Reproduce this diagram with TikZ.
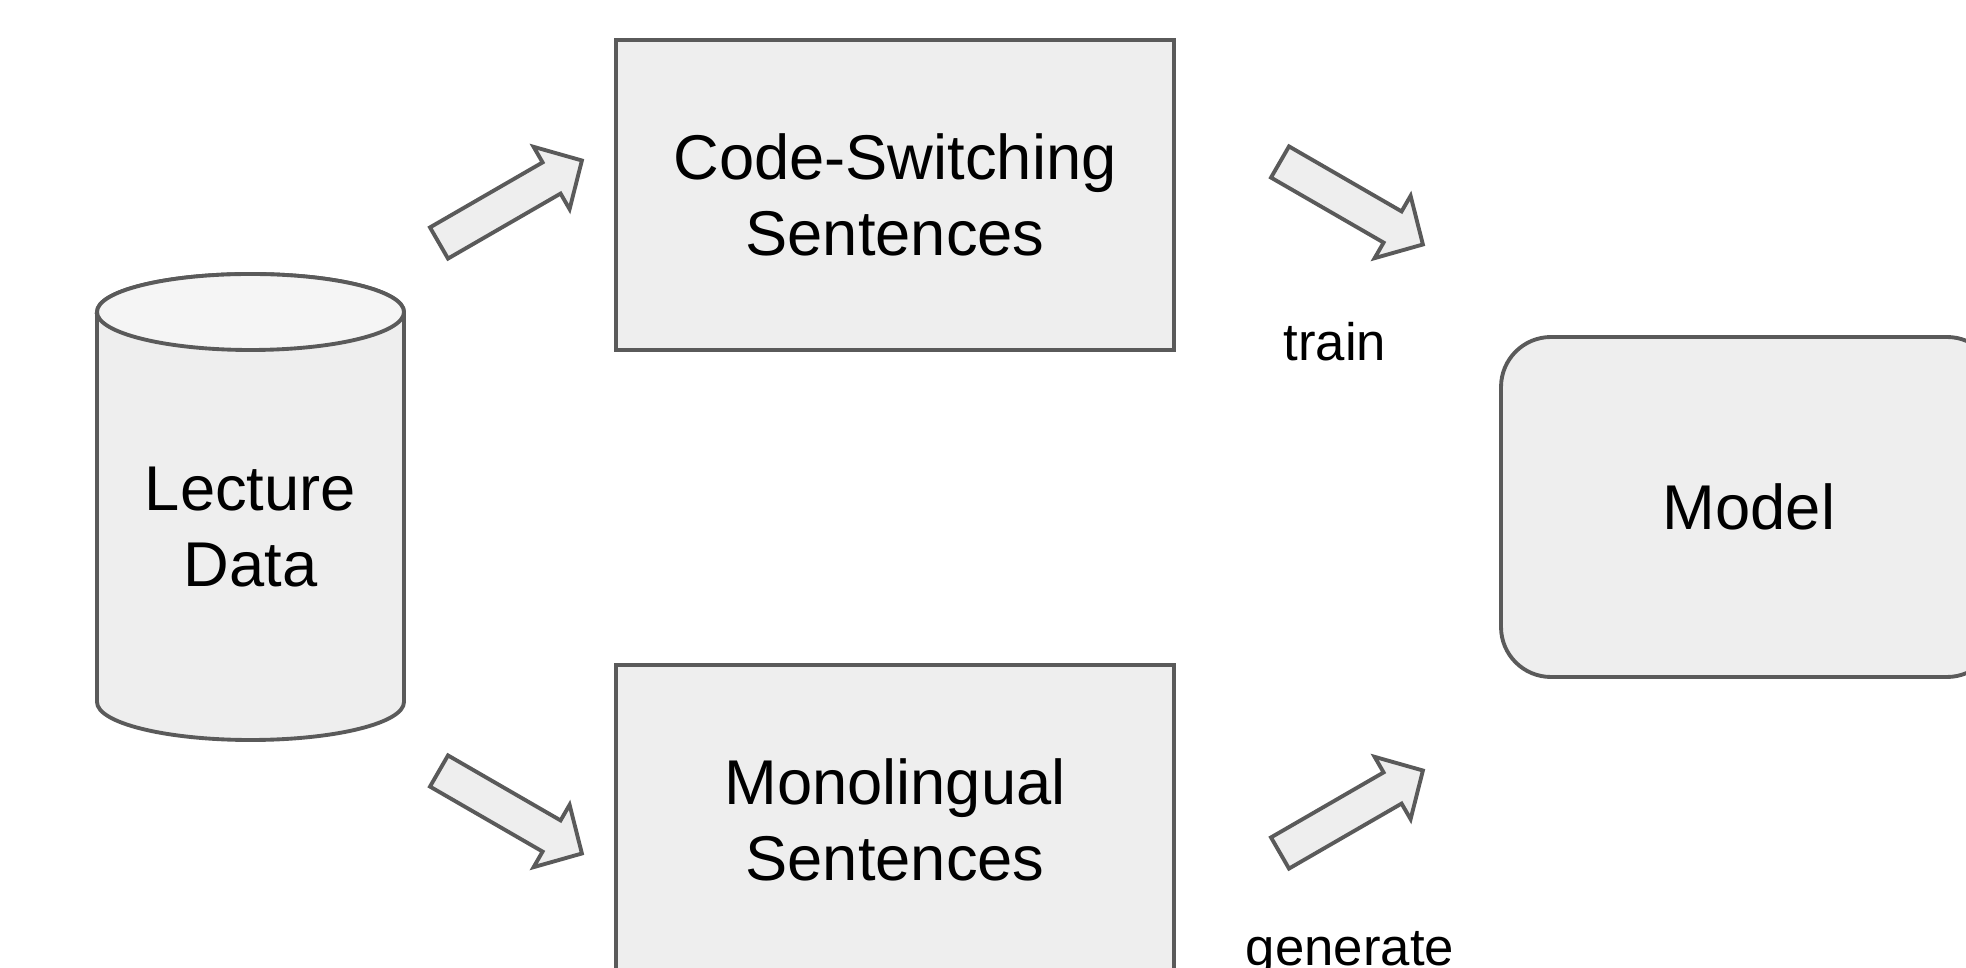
\documentclass[tikz,border=0pt]{standalone}
\usepackage{fontspec}
\setmainfont{Liberation Sans}
\definecolor{boxline}{HTML}{5A5A5A}
\definecolor{boxfill}{HTML}{EEEEEE}
\definecolor{topfill}{HTML}{F5F5F5}
% fat block arrow: tail centre, angle
\newcommand{\fatarrow}[2]{%
  \draw[fatarr,shift={(#1)},rotate=#2](0,-0.18)--(1.30,-0.18)--(1.30,-0.36)--(1.65,0)--(1.30,0.36)--(1.30,0.18)--(0,0.18)--cycle;}

\begin{document}
\begin{tikzpicture}[
    every node/.style={font=\fontsize{18}{21.5}\selectfont,align=center},
    sentbox/.style={draw=boxline,fill=boxfill,line width=1.1pt,minimum width=5.58cm,minimum height=3.10cm},
    modelbox/.style={draw=boxline,fill=boxfill,line width=1.1pt,rounded corners=0.5cm,minimum width=4.96cm,minimum height=3.40cm},
    fatarr/.style={draw=boxline,fill=boxfill,line width=1.1pt,line join=miter},
    steplabel/.style={font=\fontsize{15}{18}\selectfont,anchor=base}]
    \useasboundingbox(0,0)rectangle(19.66,9.67);
    \clip(0,0)rectangle(19.66,9.67);
    % lecture data (cylinder)
    \draw[draw=boxline,fill=boxfill,line width=1.1pt](0.97,6.55)--(0.97,2.65)arc[start angle=180,end angle=360,x radius=1.535,y radius=0.38]--(4.04,6.55)arc[start angle=0,end angle=180,x radius=1.535,y radius=0.38]--cycle;
    \draw[draw=boxline,fill=topfill,line width=1.1pt](2.505,6.55)ellipse[x radius=1.535,y radius=0.38];
    \node(data) at(2.505,4.40){Lecture\\Data};
    % sentence boxes and model
    \node[sentbox](cs) at(8.95,7.72){Code-Switching\\Sentences};
    \node[sentbox](mono) at(8.95,1.47){Monolingual\\Sentences};
    \node[modelbox](model) at(17.49,4.60){Model};
    \node[steplabel](train) at(13.35,6.06){train};
    \node[steplabel](gen) at(13.50,0.02){generate};
    % arrows
    \coordinate(a1) at(4.39,7.24);
    \coordinate(a2) at(12.80,8.05);
    \coordinate(a3) at(4.39,1.96);
    \coordinate(a4) at(12.80,1.14);
    \fatarrow{a1}{30}
    \fatarrow{a2}{-30}
    \fatarrow{a3}{-30}
    \fatarrow{a4}{30}
\end{tikzpicture}
\end{document}
